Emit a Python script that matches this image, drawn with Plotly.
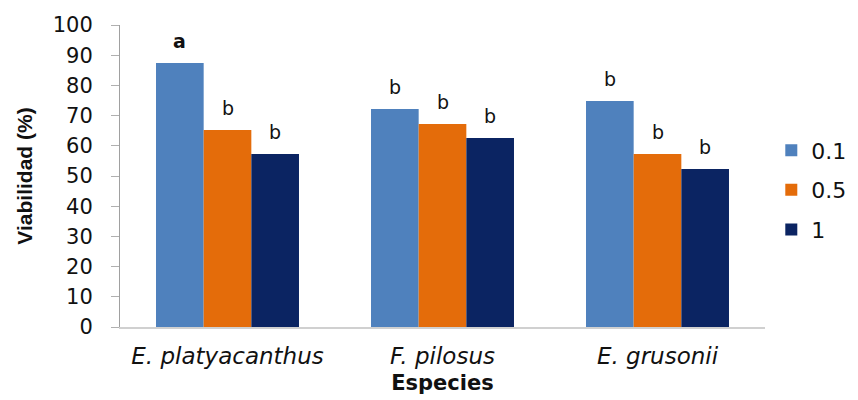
import plotly.graph_objects as go

species = ["E. platyacanthus", "F. pilosus", "E. grusonii"]
series_names = ["0.1", "0.5", "1"]
values_01 = [87.4, 72.2, 74.8]
values_05 = [65.2, 67.2, 57.3]
values_1 = [57.3, 62.6, 52.3]
letters_01 = ["<b>a</b>", "b", "b"]
letters_05 = ["b", "b", "b"]
letters_1 = ["b", "b", "b"]
y_ticks = list(range(0, 101, 10))

colors = ["#4F81BD", "#E46C0A", "#0B2462"]
all_vals = [values_01, values_05, values_1]
all_letters = [letters_01, letters_05, letters_1]

BARGAP = 0.335
n_series = len(series_names)
bar_w = (1 - BARGAP) / n_series

fig = go.Figure()
annotations = []
for j, (name, vals, lets, col) in enumerate(zip(series_names, all_vals, all_letters, colors)):
    fig.add_trace(go.Bar(
        x=species, y=vals, name=name, marker_color=col, marker_line_width=0,
        legendgroup=name,
    ))
    for i, (v, t) in enumerate(zip(vals, lets)):
        annotations.append(dict(
            x=i + (j - (n_series - 1) / 2) * bar_w, y=v, xref="x", yref="y",
            text=t, showarrow=False, yanchor="bottom", yshift=9,
            font=dict(family="DejaVu Sans", size=19, color="#111111"),
        ))

fig.update_layout(
    width=850, height=392,
    margin=dict(l=112, r=93, t=17, b=73),
    paper_bgcolor="white", plot_bgcolor="white",
    barmode="group", bargap=BARGAP, bargroupgap=0,
    font=dict(family="DejaVu Sans", color="#111111"),
    annotations=annotations,
    legend=dict(xref="container", yref="container", x=0.898, y=0.536,
                xanchor="left", yanchor="middle",
                font=dict(size=22, family="DejaVu Sans"), itemwidth=30,
                tracegroupgap=8, traceorder="grouped"),
    showlegend=True,
)
fig.update_xaxes(
    type="category", automargin=False,
    showline=True, linecolor="#D0D0D0", linewidth=2,
    tickfont=dict(size=23, family="DejaVu Sans"),
    ticks="", ticklabelstandoff=7,
    tickvals=species, ticktext=["<i>" + s + "</i>" for s in species],
    title=dict(text="<b>Especies</b>", font=dict(size=21, family="DejaVu Sans"), standoff=8),
)
fig.update_yaxes(
    range=[0, 100], tickvals=y_ticks, automargin=False,
    showline=True, linecolor="#A0A0A0", linewidth=1,
    showgrid=False, zeroline=False,
    ticks="outside", ticklen=8, tickcolor="#B0B0B0",
    ticklabelstandoff=14,
    tickfont=dict(size=21, family="DejaVu Sans"),
    title=dict(text="<b>Viabilidad (%)</b>", font=dict(size=21, family="Liberation Sans, Arial"), standoff=14),
)

fig.write_html("out.html")
